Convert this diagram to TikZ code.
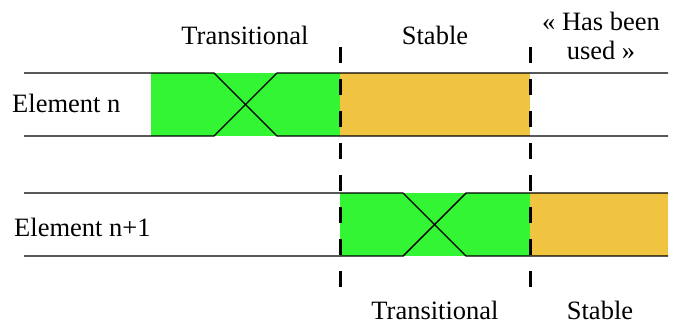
\documentclass[tikz,border=0pt]{standalone}
\usepackage{fontspec}
\setmainfont{Liberation Serif}
\newfontfamily\lblfont{Liberation Serif}
\definecolor{tgreen}{RGB}{51,245,51}
\definecolor{tgold}{RGB}{240,196,64}
\begin{document}
\begin{tikzpicture}[x=1pt,y=-1pt,
  lbl/.style={font=\lblfont\fontsize{26.5}{29}\selectfont, inner sep=0pt},
  sig/.style={line width=1.4pt, line join=round},
  divider/.style={line width=3pt, dash pattern=on 16pt off 16pt}]
\useasboundingbox (0,0) rectangle (676,327);
% fills
\fill[tgreen] (151,73) rectangle (340,136);
\fill[tgold] (340,73) rectangle (530,136);
\fill[tgreen] (340,193) rectangle (530,256);
\fill[tgold] (530,193) rectangle (668,256);
% row 1 signal
\draw[sig] (24,73) -- (214,73) -- (277,136) -- (668,136);
\draw[sig] (24,136) -- (214,136) -- (277,73) -- (668,73);
% row 2 signal
\draw[sig] (24,193) -- (403,193) -- (466,256) -- (668,256);
\draw[sig] (24,256) -- (403,256) -- (466,193) -- (668,193);
% dividers
\coordinate (d1t) at (340,47); \coordinate (d1b) at (340,290);
\coordinate (d2t) at (530,47); \coordinate (d2b) at (530,290);
\draw[divider] (d1t) -- (d1b);
\draw[divider] (d2t) -- (d2b);
% labels
\node[lbl] (t1) at (245,35) {Transitional};
\node[lbl] (s1) at (435,35) {Stable};
\node[lbl, align=center] (u1) at (601,36) {« Has been\\used »};
\node[lbl, anchor=west] (e1) at (12,103) {Element n};
\node[lbl, anchor=west] (e2) at (14,227) {Element n+1};
\node[lbl] (t2) at (435,310) {Transitional};
\node[lbl] (s2) at (600,310) {Stable};
\end{tikzpicture}
\end{document}
